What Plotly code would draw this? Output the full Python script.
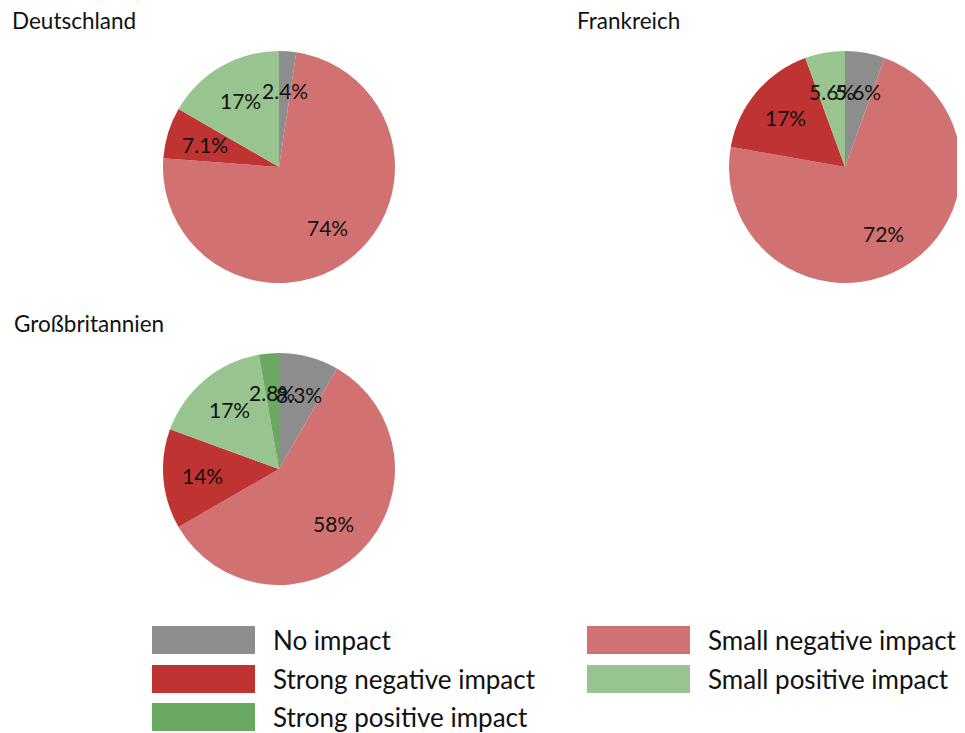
import math
import plotly.graph_objects as go

# page body has an 8px margin; lay out in window pixels and shift
OFF = 8
W, H = 965 - OFF, 733 - OFF

categories = ["No impact", "Small negative impact", "Strong negative impact",
              "Small positive impact", "Strong positive impact"]
colors = ["#8d8d8d", "#d27171", "#bf3333", "#98c48f", "#69a962"]

countries = ["Deutschland", "Frankreich", "Großbritannien"]
de_values = [1, 31, 3, 7, 0]
fr_values = [1, 13, 3, 1, 0]
gb_values = [3, 21, 5, 6, 1]
all_values = [de_values, fr_values, gb_values]

# pie layout (window pixels): center x, center y, radius
pie_centers = [(279, 167), (845, 167), (279, 469)]
R = 116
title_pos = [(10, 20), (575, 20), (12, 323)]

FONT = "Lato"


def px_x(x):
    return (x - OFF) / W


def px_y(y):
    return 1 - (y - OFF) / H


fig = go.Figure()
annotations = []

for name, vals, (cx, cy), (tx, ty) in zip(countries, all_values, pie_centers, title_pos):
    labs = [c for c, v in zip(categories, vals) if v > 0]
    cols = [col for col, v in zip(colors, vals) if v > 0]
    vv = [v for v in vals if v > 0]
    fig.add_trace(go.Pie(
        labels=labs, values=vv, sort=False, direction="clockwise", rotation=0,
        marker=dict(colors=cols, line=dict(width=0)),
        textinfo="none", hoverinfo="label+percent", showlegend=False,
        domain=dict(x=[px_x(cx - R), px_x(cx + R)], y=[px_y(cy + R), px_y(cy - R)]),
    ))
    total = sum(vv)
    cum = 0
    for v in vv:
        mid = (cum + v / 2) / total * 2 * math.pi
        cum += v
        lx = cx + 0.665 * R * math.sin(mid)
        ly = cy - 0.665 * R * math.cos(mid)
        pct = v / total * 100
        txt = f"{pct:.2g}%"
        annotations.append(dict(x=px_x(lx), y=px_y(ly), xref="paper", yref="paper",
                                text=txt, showarrow=False, xanchor="center", yanchor="middle",
                                font=dict(family=FONT, size=21, color="#111111")))
    annotations.append(dict(x=px_x(tx), y=px_y(ty), xref="paper", yref="paper", text=name,
                            showarrow=False, xanchor="left", yanchor="middle",
                            font=dict(family=FONT, size=22.5, color="#111111")))

# custom legend: two columns, row-major
shapes = []
col_x = [152, 587]
row_y = [640, 679, 717]
sw_w, sw_h = 103, 28
for i, (cat, col) in enumerate(zip(categories, colors)):
    r, c = divmod(i, 2)
    x0 = col_x[c]
    yc = row_y[r]
    shapes.append(dict(type="rect", xref="paper", yref="paper",
                       x0=px_x(x0), x1=px_x(x0 + sw_w),
                       y0=px_y(yc + sw_h / 2), y1=px_y(yc - sw_h / 2),
                       fillcolor=col, line=dict(width=0)))
    annotations.append(dict(x=px_x(x0 + sw_w + 16), y=px_y(yc), xref="paper", yref="paper",
                            text=cat, showarrow=False, xanchor="left", yanchor="middle",
                            font=dict(family=FONT, size=26, color="#111111")))

fig.update_layout(width=W, height=H, margin=dict(l=0, r=0, t=0, b=0),
                  paper_bgcolor="white", plot_bgcolor="white",
                  annotations=annotations, shapes=shapes, showlegend=False)
fig.write_html("out.html")
